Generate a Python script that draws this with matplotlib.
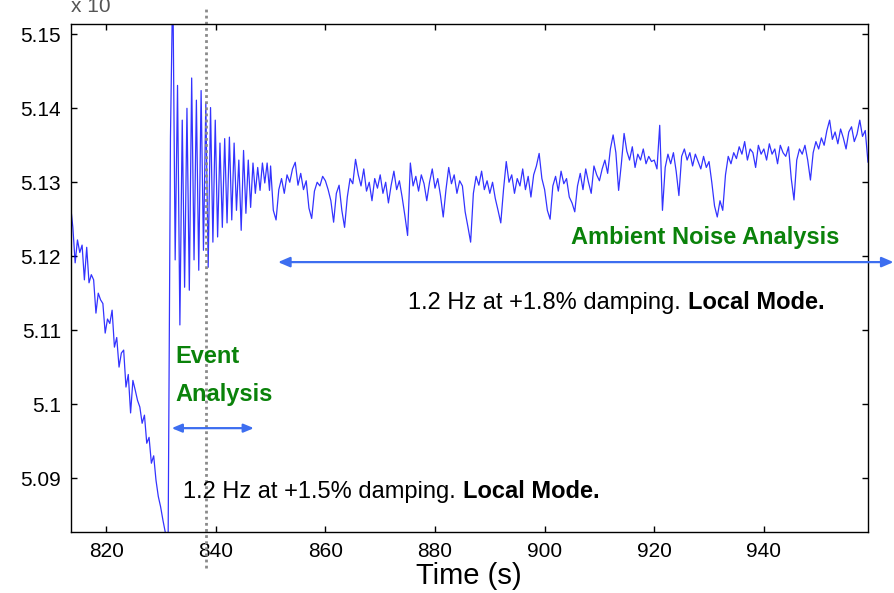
import numpy as np
import matplotlib
matplotlib.use('Agg')
import matplotlib.pyplot as plt

# values (the y axis is shown as 5.xx)
# slow decline before the event, 813.5 s .. 831.2 s
DECLINE_START, DECLINE_END = 813.5, 831.2
DECLINE = [5.1269, 5.1239, 5.1191, 5.1222, 5.1205, 5.1215, 5.1168, 5.1212, 5.1164,
           5.1175, 5.1168, 5.1123, 5.1150, 5.1141, 5.1136, 5.1096, 5.1115, 5.1109,
           5.1127, 5.1077, 5.1090, 5.1050, 5.1069, 5.1073, 5.1023, 5.1040, 5.0988,
           5.1032, 5.1019, 5.1005, 5.0996, 5.0974, 5.0985, 5.0947, 5.0955, 5.0920,
           5.0930, 5.0897, 5.0875, 5.0861, 5.0843, 5.0827, 5.0815]

# ringing after the event, 831.3 s .. 849.8 s (peaks and troughs)
RING_START, RING_END = 831.3, 849.8
RING = [5.0810, 5.1360, 5.1580, 5.1195, 5.1431, 5.1107, 5.1384, 5.1158, 5.1400,
        5.1154, 5.1441, 5.1195, 5.1411, 5.1181, 5.1424, 5.1208, 5.1407, 5.1185,
        5.1401, 5.1219, 5.1384, 5.1226, 5.1353, 5.1239, 5.1359, 5.1245, 5.1361,
        5.1249, 5.1353, 5.1262, 5.1330, 5.1235, 5.1343, 5.1258, 5.1330, 5.1266,
        5.1326, 5.1285, 5.1320, 5.1289, 5.1326, 5.1299, 5.1326, 5.1289]

# ambient noise, every 0.5 s from 850 s, one list per 10 s
AMBIENT_START, AMBIENT_STEP = 850.0, 0.5
NOISE_850 = [5.1322, 5.1262, 5.1249, 5.1290, 5.1305, 5.1285, 5.1310, 5.1300, 5.1318, 5.1327,
             5.1296, 5.1312, 5.1290, 5.1302, 5.1265, 5.1251, 5.1288, 5.1300, 5.1295, 5.1308]
NOISE_860 = [5.1302, 5.1290, 5.1275, 5.1246, 5.1285, 5.1296, 5.1262, 5.1239, 5.1280, 5.1305,
             5.1298, 5.1331, 5.1310, 5.1295, 5.1318, 5.1288, 5.1300, 5.1275, 5.1305, 5.1292]
NOISE_870 = [5.1310, 5.1285, 5.1300, 5.1272, 5.1296, 5.1315, 5.1290, 5.1302, 5.1280, 5.1255,
             5.1228, 5.1326, 5.1295, 5.1308, 5.1288, 5.1310, 5.1298, 5.1275, 5.1300, 5.1318]
NOISE_880 = [5.1292, 5.1305, 5.1282, 5.1253, 5.1290, 5.1320, 5.1298, 5.1310, 5.1285, 5.1302,
             5.1295, 5.1260, 5.1240, 5.1219, 5.1285, 5.1308, 5.1296, 5.1315, 5.1290, 5.1302]
NOISE_890 = [5.1285, 5.1300, 5.1278, 5.1262, 5.1245, 5.1290, 5.1328, 5.1300, 5.1310, 5.1285,
             5.1305, 5.1295, 5.1318, 5.1290, 5.1308, 5.1280, 5.1310, 5.1322, 5.1339, 5.1305]
NOISE_900 = [5.1290, 5.1262, 5.1250, 5.1295, 5.1308, 5.1288, 5.1315, 5.1298, 5.1305, 5.1280,
             5.1272, 5.1260, 5.1295, 5.1312, 5.1290, 5.1318, 5.1300, 5.1285, 5.1322, 5.1310]
NOISE_910 = [5.1302, 5.1318, 5.1330, 5.1312, 5.1345, 5.1364, 5.1340, 5.1289, 5.1325, 5.1366,
             5.1342, 5.1330, 5.1348, 5.1320, 5.1338, 5.1330, 5.1345, 5.1325, 5.1335, 5.1328]
NOISE_920 = [5.1330, 5.1318, 5.1377, 5.1262, 5.1320, 5.1338, 5.1325, 5.1340, 5.1315, 5.1282,
             5.1335, 5.1345, 5.1330, 5.1340, 5.1322, 5.1338, 5.1328, 5.1318, 5.1335, 5.1320]
NOISE_930 = [5.1328, 5.1300, 5.1268, 5.1253, 5.1275, 5.1262, 5.1310, 5.1335, 5.1325, 5.1340,
             5.1332, 5.1348, 5.1338, 5.1355, 5.1330, 5.1345, 5.1340, 5.1320, 5.1350, 5.1338]
NOISE_940 = [5.1345, 5.1330, 5.1352, 5.1338, 5.1345, 5.1325, 5.1350, 5.1340, 5.1335, 5.1348,
             5.1305, 5.1276, 5.1330, 5.1345, 5.1338, 5.1350, 5.1330, 5.1303, 5.1340, 5.1355]
NOISE_950 = [5.1345, 5.1360, 5.1350, 5.1370, 5.1384, 5.1358, 5.1368, 5.1352, 5.1372, 5.1360,
             5.1345, 5.1368, 5.1375, 5.1355, 5.1365, 5.1384, 5.1362, 5.1370, 5.1327, 5.1365]

X_TICKS = [820, 840, 860, 880, 900, 920, 940]
Y_TICKS = [5.09, 5.10, 5.11, 5.12, 5.13, 5.14, 5.15]
Y_TICK_LABELS = ['5.09', '5.1', '5.11', '5.12', '5.13', '5.14', '5.15']
EVENT_TIME = 838.2

ambient = (NOISE_850 + NOISE_860 + NOISE_870 + NOISE_880 + NOISE_890 + NOISE_900
           + NOISE_910 + NOISE_920 + NOISE_930 + NOISE_940 + NOISE_950)
t = np.concatenate([np.linspace(DECLINE_START, DECLINE_END, len(DECLINE)),
                    np.linspace(RING_START, RING_END, len(RING)),
                    AMBIENT_START + AMBIENT_STEP * np.arange(len(ambient))])
y = np.array(DECLINE + RING + ambient)

GREEN = '#0a820a'
ARROW = '#3d6ef0'
NOTE_SIZE = 17

plt.rcParams['font.family'] = ['Liberation Sans', 'DejaVu Sans']
fig = plt.figure(figsize=(8.94, 5.93), dpi=100)
ax = fig.add_axes([0.0789, 0.1029, 0.8920, 0.8566])

ax.plot(t, y, color='#0000ff', lw=0.9, alpha=0.8)
ax.set_xlim(813.5, 959.0)
ax.set_ylim(5.0827, 5.1514)
ax.set_xticks(X_TICKS)
ax.set_yticks(Y_TICKS)
ax.set_yticklabels(Y_TICK_LABELS)
ax.tick_params(direction='in', length=4, width=1, top=True, right=True,
               labelsize=15, pad=7)
for s in ax.spines.values():
    s.set_linewidth(1.0)
ax.set_xlabel('Time (s)', fontsize=21, labelpad=1)

# dotted marker where the event analysis window sits
ax.axvline(EVENT_TIME, ymin=-0.071, ymax=1.031, clip_on=False,
           color='#8a8a8a', lw=2, ls=(0, (1, 1.2)))

# clipped exponent label at the very top
fig.text(0.079, 1 - 12 / 593, 'x 10', fontsize=15, color='#555555', va='baseline')

# annotations
fig.text(0.789, 0.600, 'Ambient Noise Analysis', weight='bold',
         fontsize=NOTE_SIZE, color=GREEN, ha='center', va='center')
ax.annotate('', xy=(0.9995, 0.558), xytext=(0.311, 0.558), xycoords='figure fraction',
            textcoords='figure fraction', annotation_clip=False,
            arrowprops=dict(arrowstyle='<|-|>,head_length=0.7,head_width=0.3',
                            color=ARROW, lw=1.6, shrinkA=0, shrinkB=0))
note1 = fig.text(0.4564, 0.479, '1.2 Hz at +1.8% damping.', fontsize=NOTE_SIZE,
                 ha='left', va='baseline')
ax.annotate('Local Mode.', xy=(1, 0), xycoords=note1, xytext=(5, 0),
            textcoords='offset points', weight='bold', fontsize=NOTE_SIZE,
            ha='left', va='bottom', annotation_clip=False)

fig.text(0.1957, 0.398, 'Event', weight='bold',
         fontsize=NOTE_SIZE, color=GREEN, ha='left', va='center')
fig.text(0.1957, 0.334, 'Analysis', weight='bold',
         fontsize=NOTE_SIZE, color=GREEN, ha='left', va='center')
ax.annotate('', xy=(0.284, 0.278), xytext=(0.192, 0.278), xycoords='figure fraction',
            textcoords='figure fraction', annotation_clip=False,
            arrowprops=dict(arrowstyle='<|-|>,head_length=0.6,head_width=0.25',
                            color=ARROW, lw=1.6, shrinkA=0, shrinkB=0))
note2 = fig.text(0.2047, 0.160, '1.2 Hz at +1.5% damping.', fontsize=NOTE_SIZE,
                 ha='left', va='baseline')
ax.annotate('Local Mode.', xy=(1, 0), xycoords=note2, xytext=(5, 0),
            textcoords='offset points', weight='bold', fontsize=NOTE_SIZE,
            ha='left', va='bottom', annotation_clip=False)

fig.savefig('out.png', dpi=100)
